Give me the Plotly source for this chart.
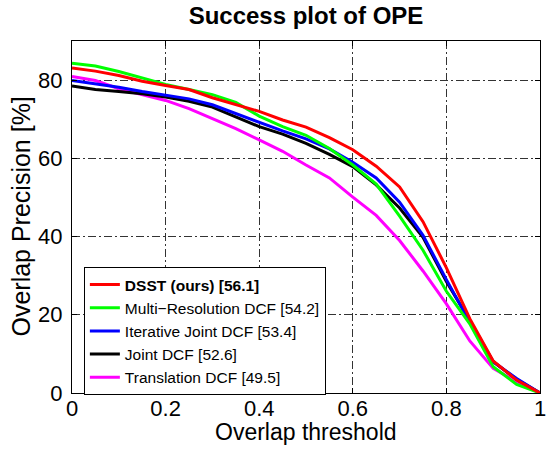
import plotly.graph_objects as go

thresholds = [0.0, 0.05, 0.1, 0.15, 0.2, 0.25, 0.3, 0.35, 0.4, 0.45, 0.5,
              0.55, 0.6, 0.65, 0.7, 0.75, 0.8, 0.85, 0.9, 0.95, 1.0]

dsst = [83.1, 82.3, 81.2, 79.7, 78.6, 77.6, 75.5, 73.8, 72.0, 69.8, 68.0,
        65.3, 62.2, 58.0, 52.7, 43.8, 32.0, 19.0, 8.2, 3.3, 0.0]
multi_res = [84.3, 83.6, 82.2, 80.5, 78.9, 77.6, 76.3, 74.3, 70.8, 68.1, 65.9,
             62.5, 58.3, 53.4, 45.2, 36.5, 26.0, 17.7, 6.7, 2.2, 0.0]
iter_joint = [79.9, 79.1, 78.2, 77.1, 76.1, 75.2, 73.7, 71.4, 69.2, 67.0, 65.0,
              62.4, 59.0, 55.0, 48.8, 40.3, 29.0, 18.1, 8.0, 3.7, 0.0]
joint = [78.5, 77.6, 77.1, 76.5, 75.7, 74.6, 73.1, 70.6, 68.1, 66.2, 63.8,
         61.0, 57.9, 53.2, 47.3, 39.8, 28.5, 18.5, 8.0, 3.5, 0.0]
translation = [80.9, 79.9, 77.8, 76.3, 74.8, 72.7, 70.2, 67.6, 64.7, 61.8, 58.3,
               55.0, 50.1, 45.4, 39.0, 31.2, 22.8, 13.3, 6.3, 2.9, 0.0]

names = ["<b>DSST (ours) [56.1]</b>", "Multi\u2212Resolution DCF [54.2]",
         "Iterative Joint DCF [53.4]", "Joint DCF [52.6]", "Translation DCF [49.5]"]
series = [dsst, multi_res, iter_joint, joint, translation]
colors = ["#ff0000", "#00ff00", "#0000ff", "#000000", "#ff00ff"]

x_ticks = [0, 0.2, 0.4, 0.6, 0.8, 1]
x_ticklabels = ["0", "0.2", "0.4", "0.6", "0.8", "1"]
y_ticks = [0, 20, 40, 60, 80]

FONT = "Liberation Sans, Arial, Helvetica, sans-serif"
PL, PR, PT, PB = 72, 545, 41, 393
W, H = 558, 451
pw, ph = PR - PL, PB - PT

fig = go.Figure()
for name, ys, col in reversed(list(zip(names, series, colors))):
    fig.add_trace(go.Scatter(x=thresholds, y=ys, mode="lines", name=name,
                             line=dict(color=col, width=3)))

grid_dash = "8px,3px,2px,3px"
fig.update_layout(
    width=W, height=H,
    margin=dict(l=PL, r=W - PR, t=PT, b=H - PB),
    paper_bgcolor="white", plot_bgcolor="white",
    font=dict(family=FONT, color="black", size=22),
    title=dict(text="<b>Success plot of OPE</b>", x=0.5, xref="paper",
               y=1 - 16 / H, yref="container", yanchor="middle",
               font=dict(size=24, family=FONT, color="black")),
    showlegend=True,
    legend=dict(x=(84 - PL) / pw, y=(PB - 267) / ph, xanchor="left", yanchor="top",
                traceorder="reversed", bgcolor="white",
                bordercolor="black", borderwidth=1,
                font=dict(size=15.5, family=FONT, color="black"),
                tracegroupgap=0),
    xaxis=dict(range=[0, 1], tickvals=x_ticks, ticktext=x_ticklabels,
               showgrid=True, gridcolor="#333333", gridwidth=1, griddash=grid_dash,
               showline=True, linecolor="black", linewidth=1, mirror="ticks",
               ticks="inside", ticklen=5, tickcolor="black",
               zeroline=False, ticklabelstandoff=-4,
               tickfont=dict(size=22)),
    yaxis=dict(range=[0, 90], tickvals=y_ticks,
               showgrid=True, gridcolor="#333333", gridwidth=1, griddash=grid_dash,
               showline=True, linecolor="black", linewidth=1, mirror="ticks",
               ticks="inside", ticklen=5, tickcolor="black",
               zeroline=False, ticklabelstandoff=4,
               tickfont=dict(size=22)),
    annotations=[
        dict(text="Overlap threshold", xref="paper", yref="paper",
             x=0.5, y=(PB - 432) / ph, xanchor="center", yanchor="middle",
             showarrow=False, font=dict(size=23, family=FONT, color="black")),
        dict(text="Overlap Precision [%]", xref="paper", yref="paper",
             x=(20 - PL) / pw, y=0.5, xanchor="center", yanchor="middle",
             textangle=-90, showarrow=False,
             font=dict(size=25, family=FONT, color="black")),
    ],
)

fig.write_html("out.html", config={"displayModeBar": False},
               post_script="document.body.style.margin='0';document.body.style.padding='0';")
